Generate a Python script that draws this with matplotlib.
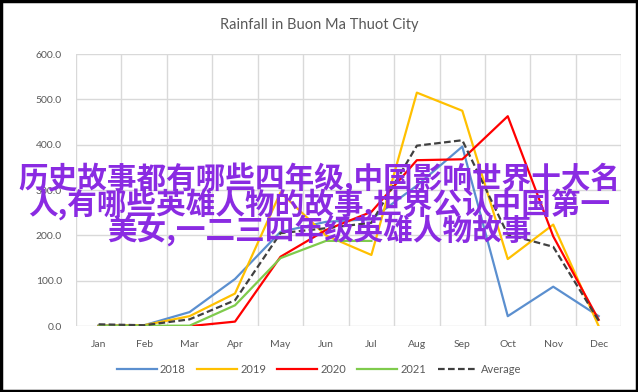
import matplotlib
matplotlib.use("Agg")
import matplotlib.pyplot as plt
from matplotlib.lines import Line2D
import numpy as np

months = ["Jan", "Feb", "Mar", "Apr", "May", "Jun",
          "Jul", "Aug", "Sep", "Oct", "Nov", "Dec"]

rain_2018 = [2, 2, 31, 104, 208, 230, 236, 310, 396, 22, 87, 22]
rain_2019 = [1, 2, 22, 72, 295, 200, 157, 515, 475, 148, 224, 0]
rain_2020 = [0, 0, 0, 10, 153, 212, 252, 366, 368, 463, 198, 14]
rain_2021 = [0, 1, 1, 46, 150, 188, 188]
rain_avg = [4, 2, 15, 57, 205, 216, 228, 398, 410, 202, 175, 12]

overlay_lines = [
    "历史故事都有哪些四年级,中国影响世界十大名",
    "人,有哪些英雄人物的故事,世界公认中国第一",
    "美女,一二三四年级英雄人物故事",
]

series = [
    ("2018", rain_2018, "#5b8fcf", "-"),
    ("2019", rain_2019, "#ffc000", "-"),
    ("2020", rain_2020, "#ff0000", "-"),
    ("2021", rain_2021, "#7fcb4c", "-"),
    ("Average", rain_avg, "#404040", (0, (3, 1.5))),
]

GRAY = "#595959"
FONT = ["Lato", "DejaVu Sans"]

fig = plt.figure(figsize=(6.38, 3.92), dpi=100)
ax = fig.add_axes([0.119, 0.168, 0.855, 0.694])

x = np.arange(len(months))
for name, vals, color, ls in series:
    ax.plot(x[:len(vals)], vals, color=color, lw=1.6, ls=ls, label=name, zorder=3)

ax.set_xlim(-0.5, len(months) - 0.5)
ax.set_ylim(0, 600)
ax.set_yticks(np.arange(0, 601, 100))
ax.set_yticklabels([f"{v:.1f}" for v in range(0, 601, 100)])
ax.set_xticks(x)
ax.set_xticklabels(months)
ax.set_xticks(np.arange(-0.5, len(months)), minor=True)
ax.grid(which="minor", axis="x", color="#d9d9d9", lw=1)
ax.grid(which="major", axis="y", color="#d9d9d9", lw=1)
ax.tick_params(which="both", length=0)
ax.tick_params(axis="x", pad=10)
ax.tick_params(axis="y", pad=10)
for lab in ax.get_xticklabels() + ax.get_yticklabels():
    lab.set_fontsize(7.5)
    lab.set_color(GRAY)
    lab.set_family(FONT)
for s in ax.spines.values():
    s.set_visible(False)

fig.text(0.5, 0.935, "Rainfall in Buon Ma Thuot City", ha="center", va="center",
         fontsize=10.5, color=GRAY, family=FONT)

handles = [Line2D([], [], color=c, lw=1.6, ls=ls) for _, _, c, ls in series]
fig.legend(handles, [s[0] for s in series], loc="center", bbox_to_anchor=(0.5, 0.058),
           ncol=5, frameon=False, handlelength=3.6, handletextpad=0.3,
           columnspacing=1.0, prop={"family": FONT, "size": 8},
           labelcolor=GRAY)

# outer frame
fig.patches.append(plt.Rectangle((0.002, 0.003), 0.996, 0.994, transform=fig.transFigure,
                                 fill=False, edgecolor="black", lw=2.5))

# purple overlay text
ys = [0.545, 0.478, 0.41]
for txt, yy in zip(overlay_lines, ys):
    fig.text(0.5, yy, txt, ha="center", va="center", fontsize=21.3,
             fontweight="bold", color="#8a2be2",
             family=["Noto Sans CJK SC", "DejaVu Sans"], zorder=10)

fig.savefig("out.png", dpi=100)
